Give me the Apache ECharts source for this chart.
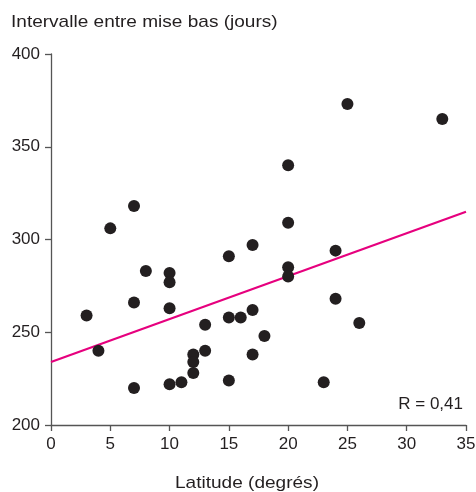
<!DOCTYPE html>
<html>
<head>
<meta charset="utf-8">
<script src="https://cdn.jsdelivr.net/npm/echarts@6/dist/echarts.min.js"></script>
<style>
  html, body { margin: 0; padding: 0; background: #fff; }
  #chart { width: 476px; height: 492px; }
</style>
</head>
<body>
<div id="chart"></div>
<script>
// latitude (degrés) and interval between births (jours)
var latitude = [3, 4, 5, 7, 7, 7, 8, 10, 10, 10, 10, 11, 12, 12, 12, 13, 13, 15, 15, 15, 16, 17, 17, 17, 18, 20, 20, 20, 20, 23, 24, 24, 25, 26, 33];
var intervalle = [259, 240, 306, 318, 266, 220, 283, 282, 277, 263, 222, 223, 238, 234, 228, 254, 240, 291, 258, 224, 258, 297, 262, 238, 248, 340, 309, 285, 280, 223, 294, 268, 373, 255, 365];
// regression line end points
var lineX = [0, 35];
var lineY = [234, 315];
var xTicks = [0, 5, 10, 15, 20, 25, 30, 35];
var yTicks = [200, 250, 300, 350, 400];

var font = '"Liberation Sans", Arial, Helvetica, sans-serif';
var ink = '#231f20';

var points = latitude.map(function (x, i) { return [x, intervalle[i]]; });
var line = lineX.map(function (x, i) { return [x, lineY[i]]; });

var myChart = echarts.init(document.getElementById('chart'));
var option = {
  animation: false,
  grid: { left: 51, right: 10, top: 54, bottom: 67, outerBoundsMode: 'none', containLabel: false },
  xAxis: {
    type: 'value',
    min: xTicks[0],
    max: xTicks[xTicks.length - 1],
    interval: 5,
    splitLine: { show: false },
    axisLine: { lineStyle: { color: '#555', width: 1.3 } },
    axisTick: { inside: false, length: 6, lineStyle: { color: '#555', width: 1.3 } },
    axisLabel: { fontFamily: font, fontSize: 17, color: ink, margin: 11 }
  },
  yAxis: {
    type: 'value',
    min: yTicks[0],
    max: yTicks[yTicks.length - 1],
    interval: 50,
    splitLine: { show: false },
    axisLine: { show: true, lineStyle: { color: '#555', width: 1.3 } },
    axisTick: { show: true, inside: false, length: 6, lineStyle: { color: '#555', width: 1.3 } },
    axisLabel: { fontFamily: font, fontSize: 17, color: ink, margin: 11 }
  },
  graphic: [
    {
      type: 'text',
      x: 11, y: 22, scaleX: 1.12,
      style: { text: 'Intervalle entre mise bas (jours)', font: '17px ' + font, fill: ink,
               textAlign: 'left', textVerticalAlign: 'middle' }
    },
    {
      type: 'text',
      x: 247, y: 483, scaleX: 1.12,
      style: { text: 'Latitude (degrés)', font: '17px ' + font, fill: ink,
               textAlign: 'center', textVerticalAlign: 'middle' }
    },
    {
      type: 'text',
      x: 463, y: 404,
      style: { text: 'R = 0,41', font: '17px ' + font, fill: ink,
               textAlign: 'right', textVerticalAlign: 'middle' }
    }
  ],
  series: [
    {
      type: 'line',
      data: line,
      showSymbol: false,
      lineStyle: { color: '#e6007e', width: 2.2 },
      z: 1
    },
    {
      type: 'scatter',
      data: points,
      symbolSize: 12,
      itemStyle: { color: ink, opacity: 1 },
      z: 2
    }
  ]
};
option && myChart.setOption(option);
</script>
</body>
</html>
